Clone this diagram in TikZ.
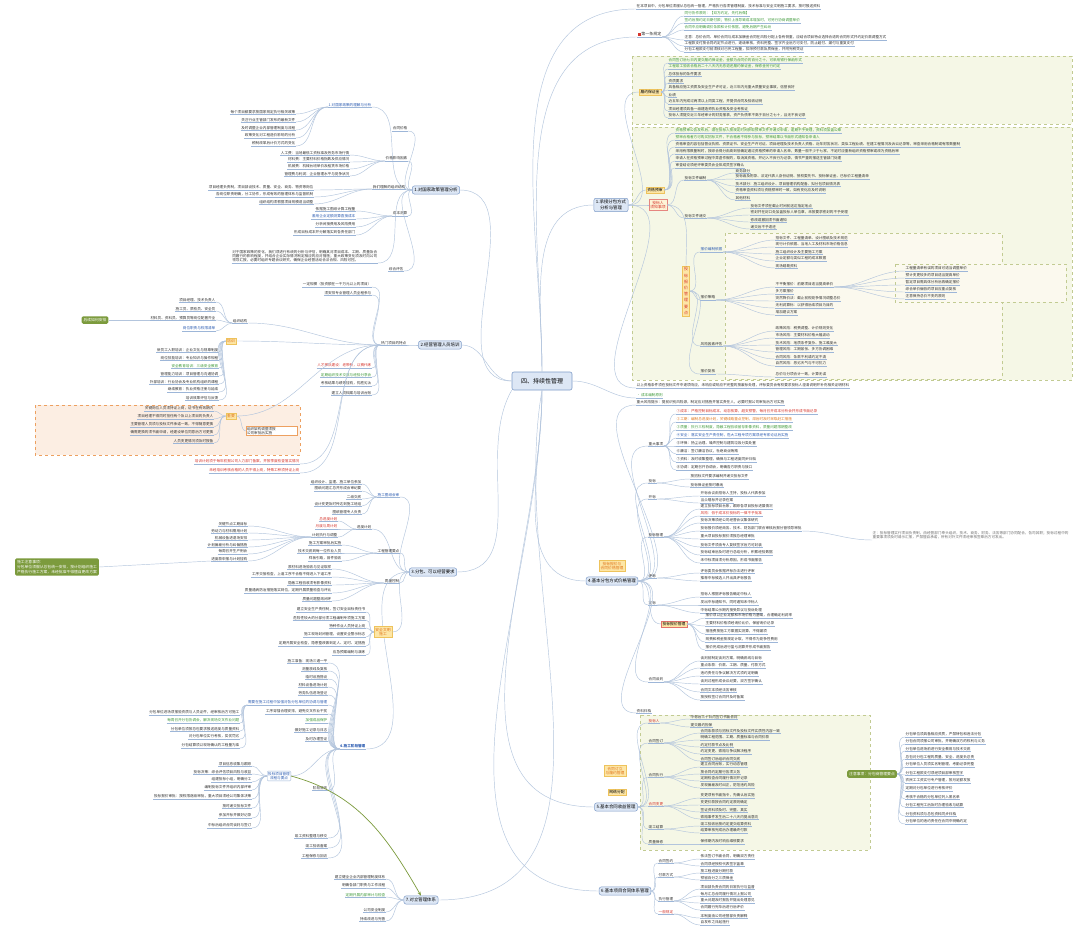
\documentclass[tikz,border=0pt]{standalone}
\usepackage{fontspec}
\setmainfont{Noto Sans CJK SC}
\XeTeXlinebreaklocale "zh"
\XeTeXlinebreakskip=0pt plus 1pt
\usepackage{xcolor}
\usepackage{tikz}
\usetikzlibrary{arrows.meta,calc}
\usetikzlibrary{positioning}

\definecolor{rootfill}{HTML}{DDE7F5}
\definecolor{rootedge}{HTML}{7E9CC8}
\definecolor{linkcol}{HTML}{B3C5DD}
\definecolor{ulcol}{HTML}{9DB6D8}
\definecolor{tipfill}{HTML}{FDE6A6}
\definecolor{tipedge}{HTML}{EEC35C}
\definecolor{panelfill}{HTML}{F5F7E6}
\definecolor{paneledge}{HTML}{C2CB92}
\definecolor{innerfill}{HTML}{FBF9EE}
\definecolor{orfill}{HTML}{FCEEE3}
\definecolor{oredge}{HTML}{EDA060}
\definecolor{olivebox}{HTML}{7C9B3D}
\definecolor{txtgreen}{HTML}{3F9A3A}
\definecolor{txtred}{HTML}{D6352C}
\definecolor{txtblue}{HTML}{2D5DB2}
\definecolor{txtorange}{HTML}{E0761C}
\definecolor{txtgrey}{HTML}{333333}

\tikzset{
  rootbox/.style={draw=rootedge, fill=rootfill, rounded corners=2pt, line width=0.6pt,
    minimum width=60pt, minimum height=18pt, font=\fontsize{6}{7}\selectfont},
  topic/.style={draw=rootedge, fill=rootfill, rounded corners=2pt, line width=0.5pt,
    inner sep=2pt, align=center, font=\fontsize{4.4}{5.4}\selectfont},
  tip/.style={draw=tipedge, fill=tipfill, line width=0.4pt, inner sep=1.4pt, align=center,
    font=\fontsize{3.8}{4.6}\selectfont},
  leaf/.style={inner sep=0.5pt, text=txtgrey, font=\fontsize{3.6}{4.4}\selectfont},
  link/.style={draw=linkcol, line width=0.45pt},
  uline/.style={draw=ulcol, line width=0.4pt},
  panel/.style={draw=paneledge, fill=panelfill, dashed, line width=0.45pt},
  orpanel/.style={draw=oredge, fill=orfill, dashed, line width=0.45pt},
  greenbox/.style={fill=olivebox, text=white, rounded corners=1.5pt, inner sep=2pt,
    align=left, font=\fontsize{3.8}{4.8}\selectfont},
}

% fan of leaves to the right / to the left of a parent point
\newcommand{\rfan}[3]{%
  \foreach \xx/\yy/\clr/\lbl [count=\i] in {#3}{%
    \node[leaf, text=\clr, anchor=south west] (#2\i) at (\xx,\yy) {\lbl};
    \draw[uline] (#2\i.south west) -- (#2\i.south east);
    \draw[link] (#1) to[out=0, in=180] (#2\i.south west);
  }}
\newcommand{\lfan}[3]{%
  \foreach \xx/\yy/\clr/\lbl [count=\i] in {#3}{%
    \node[leaf, text=\clr, anchor=south east] (#2\i) at (\xx,\yy) {\lbl};
    \draw[uline] (#2\i.south west) -- (#2\i.south east);
    \draw[link] (#1) to[out=180, in=0] (#2\i.south east);
  }}

\begin{document}
\begin{tikzpicture}[x=1pt, y=-1pt]
\useasboundingbox (0,0) rectangle (1080,927);
\fill[white] (0,0) rectangle (1080,927);

% panels
\draw[panel] (632,56) rectangle (1072,124);
\draw[panel] (632,127) rectangle (1072,380);
\draw[panel, fill=innerfill] (725,233) rectangle (1002,379);
\draw[panel, fill=innerfill] (895,264) rectangle (1066,302);
\draw[panel] (640,715) rectangle (870,850);
\draw[orpanel] (35,405) rectangle (300,455);

% root and main topics
\node[rootbox] (root) at (542,381) {四、持续性管理};
\node[topic] (rA) at (611,205) {1.承接分包方式\\分析与管理};
\node[topic] (rB) at (612,581) {4.基本分包方式价格管理};
\node[topic] (rC) at (616,807) {5.基本合同收益管理};
\node[topic] (rD) at (625,891) {6.基本项目合同体系管理};
\node[topic] (lA) at (436,190) {1.对国家政策管理分析};
\node[topic] (lB) at (440,345) {2.经营管理人员培训};
\node[topic] (lC) at (433,572) {3.分包、可以经营要求};
\node[topic] (lD) at (421,900) {7.对立管理体系};

\node[leaf, font=\fontsize{4}{5}\selectfont, anchor=south west] (rule) at (637,37)
  {\textcolor{txtred}{\rule{3pt}{3pt}}\,第一条规定};
\draw[uline] (rule.south west) -- (rule.south east);
\node[leaf, anchor=south west] (topline) at (636,9)
  {在本项目中，分包单位须服从总包统一管理，严格执行各项管理制度、技术标准与安全文明施工要求，按时报送资料};
\draw[uline] (topline.south west) -- (topline.south east);
\node[leaf, text=txtgreen, anchor=south west] (cont) at (636,398) {\textbullet\ 成本编制原则};
\draw[uline] (cont.south west) -- (cont.south east);

\draw[link] (root.north) to[out=90, in=180] (rA.west);
\draw[link] (root.north) to[out=90, in=180] (rule.south west);
\draw[link] (root.north) to[out=90, in=180] (topline.south west);
\draw[link] (root.east) to[out=0, in=180] (cont.south west);
\draw[link] (root.south) to[out=-90, in=180] (rB.west);
\draw[link] (root.south) to[out=-90, in=180] (rC.west);
\draw[link] (root.south) to[out=-90, in=180] (rD.west);
\draw[link] (root.west) to[out=180, in=0] (lA.east);
\draw[link] (root.west) to[out=180, in=0] (lB.east);
\draw[link] (root.south west) to[out=-120, in=0] (lC.east);
\draw[link] (root.south) to[out=-100, in=0] (lD.east);

% ---------- first rule
\rfan{rule.south east}{ru}{
 684/16/txtgreen/同行协作原则：【双方约定，先付后做】,
 684/23/txtgreen/签约后按约定日期付款；物价上涨导致成本增加时，可另行协商调整单价,
 684/30/txtgreen/合同中应明确调价条款和计价依据，避免后期产生纠纷,
 684/40/txtgrey/注意：总价合同、单价合同与成本加酬金合同在风险分配上各有侧重，应结合项目特点选择合适的合同形式并约定价款调整方式,
 684/46/txtgrey/工程款支付按合同约定节点进行，逐级审核，资料完整、签字齐全后方可支付，防止超付、漏付与重复支付,
 684/52/txtgrey/分包工程款支付前须核对已完工程量，扣除预付款及质保金，并附完税凭证}

% ---------- topic 1 (right)
\node[tip] (pA) at (650,92) {履约保证金};
\draw[link] (rA.east) to[out=0, in=180] (pA.west);
\rfan{pA.east}{pa}{
 668/63/txtgreen/合同签订后七日内提交履约保证金，金额为合同价的百分之十，可采用银行保函形式,
 668/69/txtgreen/工程竣工验收合格后二十八天内无息退还履约保证金，保修金另行约定,
 668/76/txtgrey/总体投标的条件要求,
 668/83/txtgrey/资质要求,
 668/90/txtgrey/具备相应施工资质及安全生产许可证，近三年内无重大质量安全事故，信誉良好,
 668/97/txtgrey/业绩,
 668/104/txtgrey/近五年内完成过两项以上同类工程，并提供合同及验收证明,
 668/111/txtgrey/项目经理须具备一级建造师执业资格及安全考核证,
 668/118/txtgrey/投标人须提交近三年经审计的财务报表，资产负债率不高于百分之七十，且无不良记录}

\node[tip] (qA) at (655,190) {资格预审};
\node[tip, fill=tipfill!45, draw=txtred!60, text=txtred] (qB) at (658,205) {投标人\\须知事项};
\draw[link] (rA.east) to[out=0, in=180] (qA.west);
\draw[link] (rA.east) to[out=0, in=180] (qB.west);
\rfan{qA.east}{qa}{
 675/133/txtgreen/资格预审公告发布后，潜在投标人按规定时间获取预审文件并递交申请，逾期不予受理，资料须加盖公章,
 675/140/txtgreen/预审合格者方可购买招标文件，不合格者不得参与投标，预审结果以书面形式通知各申请人,
 675/147/txtgrey/资格审查内容包括营业执照、资质证书、安全生产许可证、项目经理及技术负责人资格、近年财务状况、类似工程业绩、在建工程情况及诉讼记录等，审查采用合格制或有限数量制,
 675/154/txtgrey/采用有限数量制时，按综合得分由高到低确定通过资格预审的申请人名单，数量一般不少于七家，不足时应重新组织资格预审或改为资格后审,
 675/161/txtgrey/申请人在资格预审过程中弄虚作假的，取消其资格，并记入不良行为记录，情节严重的报送主管部门处理,
 675/168/txtgrey/审查结论须经评审委员会全体成员签字确认}
\rfan{qB.east}{qb}{
 684/180/txtgrey/投标文件编制,
 684/218/txtgrey/投标文件递交}
\rfan{qb1.south east}{qc}{
 735/173/txtgrey/商务部分,
 735/179/txtgrey/投标函及附录、法定代表人身份证明、授权委托书、投标保证金、已标价工程量清单,
 735/186/txtgrey/技术部分：施工组织设计、项目管理机构配备、拟分包项目情况表,
 735/193/txtgrey/资格审查资料须与资格预审时一致，如有变化应及时说明,
 735/200/txtgrey/其他材料}
\rfan{qb2.south east}{qd}{
 750/208/txtgrey/投标文件须在截止时间前送达指定地点,
 750/215/txtgrey/密封并在封口处加盖投标人单位章，未按要求密封的不予受理,
 750/222/txtgrey/修改或撤回须书面通知,
 750/229/txtgrey/递交后不予退还}

\node[tip, text=txtred, font=\fontsize{4}{6.2}\selectfont] (vt) at (686,291) {投\\标\\报\\价\\管\\理\\要\\点};
\draw[link] (qB.east) to[out=0, in=90] (vt.north);
\rfan{vt.east}{va}{
 700/252/txtblue/报价编制依据,
 700/300/txtgrey/报价策略,
 700/346/txtgrey/风险因素评估,
 700/374/txtgrey/报价复核}
\rfan{va1.south east}{vb}{
 775/240/txtgrey/招标文件、工程量清单、设计图纸及技术规范,
 775/247/txtgrey/现行计价依据、当地人工及材料市场价格信息,
 775/254/txtgrey/施工组织设计及主要施工方案,
 775/261/txtgrey/企业定额与类似工程的成本数据,
 775/268/txtgrey/现场踏勘资料}
\rfan{va2.south east}{vc}{
 775/287/txtgrey/不平衡报价：前期项目适当提高单价,
 775/294/txtgrey/多方案报价,
 775/301/txtgrey/突然降价法：截止前视竞争情况调整总价,
 775/308/txtgrey/无利润算标：以获得后续项目为目的,
 775/315/txtgrey/增加建议方案}
\rfan{vc1.south east}{vd}{
 905/271/txtgrey/工程量清单有误的项目可适当调整单价,
 905/278/txtgrey/预计变更较多的项目适当提高单价,
 905/285/txtgrey/暂定项目需具体分析后再确定报价,
 905/292/txtgrey/综合单价偏低的项目应重点复核,
 905/299/txtgrey/注意保持总价不变的原则}
\rfan{va3.south east}{ve}{
 775/331/txtgrey/政策风险：税费调整、计价规则变化,
 775/338/txtgrey/市场风险：主要材料价格大幅波动,
 775/345/txtgrey/技术风险：地质条件复杂、施工难度大,
 775/352/txtgrey/管理风险：工期紧张、多方协调困难,
 775/359/txtgrey/合同风险：条款不利或约定不清,
 775/366/txtgrey/自然风险：恶劣天气与不可抗力}
\rfan{va4.south east}{vf}{775/377/txtgrey/总价与分项合计一致，计算无误}
\rfan{rA.east}{rz}{
 636/388/txtgrey/以上资格条件须在投标文件中逐项响应，未响应或响应不完整的按废标处理，评标委员会有权要求投标人澄清说明并补充相关证明材料}

% ---------- topic 4 (right)
\node[tip, text=txtorange] (bNote) at (612,566) {投标报价与\\合同价格管理};
\rfan{rB.east}{rb}{
 636/405/txtgrey/重大风险提示：提前识别风险源，制定应对措施并落实责任人，必要时报公司审批后方可实施,
 648/446/txtgrey/重大事项,
 648/483/txtgrey/投标,
 648/499/txtgrey/开标,
 648/537/txtgrey/投标管理,
 648/578/txtgrey/评标,
 648/605/txtgrey/定标,
 648/682/txtgrey/合同谈判,
 636/713/txtgrey/资料归档}
\rfan{rb2.south east}{bA}{
 676/414/txtred/①成本：严格控制目标成本，动态核算，超支预警，每月召开成本分析会并形成书面记录,
 676/422/txtorange/②工期：编制总进度计划，关键线路重点控制，滞后时及时采取赶工措施,
 676/430/txtgreen/③质量：执行三检制度，隐蔽工程验收留存影像资料，质量问题限期整改,
 676/438/txtblue/④安全：落实安全生产责任制，危大工程专项方案须经专家论证后实施,
 676/446/txtgrey/⑤环保：扬尘治理、噪声控制与建筑垃圾分类处置,
 676/454/txtgrey/⑥廉洁：签订廉洁协议，杜绝商业贿赂,
 676/462/txtgrey/⑦资料：及时收集整理，确保与工程进度同步归档,
 676/470/txtgrey/⑧协调：定期召开协调会，明确各方职责与接口}
\rfan{rb3.south east}{bB}{
 690/479/txtgrey/按招标文件要求编制并递交投标文件,
 690/487/txtgrey/投标保证金按时缴纳}
\rfan{rb4.south east}{bC}{
 700/496/txtgrey/开标会议由招标人主持，投标人代表参加,
 700/503/txtgrey/当众唱标并记录在案}
\rfan{rb5.south east}{bD}{
 700/509/txtgrey/建立投标项目台账，跟踪各项目投标进展情况,
 700/516/txtred/风险：低于成本价投标的一律不予批准,
 700/523/txtgrey/投标决策须经公司经营会议集体研究,
 700/531/txtgrey/投标报价须经商务、技术、财务部门联合审核后报分管领导审批,
 700/539/txtgrey/重大项目投标报价须报总经理审批,
 700/547/txtgrey/投标文件须由专人复核签字后方可封装,
 700/555/txtgrey/投标结束后及时进行总结分析，积累经验数据,
 700/563/txtgrey/未中标项目须分析原因，形成书面报告}
\node[leaf, text=txtgrey!70, text width=196pt, align=left, anchor=south west] (bDnote) at (872,540)
  {注：投标管理实行项目负责制，由经营部门牵头组织，技术、商务、财务、法务等部门协同配合，各司其职；投标过程中的重要事项须及时请示汇报，严禁擅自承诺，所有对外文件须经审核签章后方可发出。};
\draw[link] (bD4.south east) to[out=0, in=180] (bDnote.south west);
\rfan{rb6.south east}{bE}{
 700/573/txtgrey/评标委员会依据评标办法进行评审,
 700/581/txtgrey/推荐中标候选人并出具评标报告}
\rfan{rb7.south east}{bF}{
 700/597/txtgrey/招标人根据评标报告确定中标人,
 700/605/txtgrey/发出中标通知书，同时通知未中标人,
 700/613/txtgrey/中标结果公示期内接受异议与投诉处理}
\node[tip, draw=txtred!70] (bT) at (674,624) {投标报价管理};
\draw[link] (rB.east) to[out=0, in=180] (bT.west);
\rfan{bT.east}{bG}{
 705/618/txtgrey/报价须以企业定额和市场价格为基础，合理确定利润率,
 705/626/txtgrey/主要材料价格须经询价比价，保留询价记录,
 705/634/txtgrey/措施费按施工方案据实测算，不得漏项,
 705/642/txtgrey/规费和税金按规定计取，不得作为竞争性费用,
 705/650/txtgrey/报价完成后进行盈亏测算并形成书面报告}
\rfan{rb8.south east}{bH}{
 700/661/txtgrey/谈判前制定谈判方案，明确底线与目标,
 700/668/txtgrey/重点条款：价款、工期、质量、付款方式,
 700/676/txtgrey/违约责任与争议解决方式须约定明确,
 700/684/txtgrey/谈判过程形成会议纪要，双方签字确认,
 700/692/txtgrey/合同文本须经法务审核,
 700/700/txtgrey/按授权签订合同并及时备案}

% ---------- topic 5 (right)
\node[tip, text=txtorange] (cNote) at (615,771) {合同订立\\与履约管理};
\node[tip] (cNet) at (617,792) {网络分配};
\rfan{rC.east}{rc}{
 648/723/txtred/投标人,
 648/743/txtgrey/合同签订,
 648/777/txtgrey/合同执行,
 648/806/txtred/合同变更,
 648/829/txtgrey/竣工结算,
 648/844/txtgrey/质量保修}
\rfan{rc1.south east}{cA}{
 690/719/txtgrey/中标后三十日内签订书面合同,
 690/727/txtgrey/提交履约担保}
\rfan{rc2.south east}{cB}{
 700/733/txtgrey/合同条款须与招标文件及投标文件实质性内容一致,
 700/740/txtgrey/明确工程范围、工期、质量标准与合同价款,
 700/747/txtgrey/约定付款节点及比例,
 700/754/txtgrey/约定变更、索赔与争议解决程序,
 700/761/txtgrey/合同签订后组织合同交底}
\rfan{rc3.south east}{cC}{
 700/767/txtgrey/建立合同台账，实行动态管理,
 700/774/txtgrey/按合同约定履行各项义务,
 700/781/txtgrey/定期检查合同履行情况并记录,
 700/788/txtgrey/发现偏差及时纠正，防范违约风险}
\rfan{rc4.south east}{cD}{
 700/798/txtgrey/变更须有书面指令，先确认后实施,
 700/805/txtgrey/变更价款按合同约定原则确定,
 700/812/txtgrey/签证资料须及时、完整、真实,
 700/819/txtgrey/索赔事件发生后二十八天内提出意向}
\rfan{rc5.south east}{cE}{
 700/826/txtgrey/竣工验收后按约定提交结算资料,
 700/833/txtgrey/结算审核完成后办理最终付款}
\rfan{rc6.south east}{cF}{700/844/txtgrey/保修期内及时响应维修要求}

\node[greenbox] (gN) at (872,774) {注意事项：分包商管理要点};
\rfan{gN.east}{gn}{
 905/737/txtgrey/分包单位须具备相应资质，严禁转包和违法分包,
 905/744/txtgrey/分包合同须报公司审批，并明确双方的权利与义务,
 905/751/txtgrey/分包单位进场前进行安全教育与技术交底,
 905/759/txtgrey/总包对分包工程的质量、安全、进度负总责,
 905/767/txtgrey/分包单位人员须实名制管理，考勤记录完整,
 905/775/txtgrey/分包工程款支付须经项目部审核签字,
 905/783/txtgrey/农民工工资实行专户管理，按月足额发放,
 905/791/txtgrey/定期对分包单位进行考核评价,
 905/799/txtgrey/考核不合格的分包单位列入黑名单,
 905/807/txtgrey/分包工程完工后及时办理验收与结算,
 905/816/txtgrey/分包资料须与总包资料同步归档,
 905/824/txtgrey/分包单位的违约责任在合同中明确约定}

% ---------- topic 6 (right)
\rfan{rD.east}{rd}{
 658/863/txtgrey/合同签约,
 658/877/txtgrey/付款方式,
 658/901/txtgrey/执行管理,
 658/914/txtred/一般规定}
\rfan{rd1.south east}{dA}{
 700/859/txtgrey/依法签订书面合同，明确双方责任,
 700/866/txtgrey/合同须经授权代表签字盖章}
\rfan{rd2.south east}{dB}{
 700/873/txtgrey/按工程进度分期付款,
 700/880/txtgrey/预留百分之三质保金}
\rfan{rd3.south east}{dC}{
 700/889/txtgrey/项目部负责合同的日常执行与监督,
 700/896/txtgrey/每月汇总合同履行情况上报公司,
 700/903/txtgrey/重大问题及时报告并提出处理意见,
 700/910/txtgrey/合同履行完毕后进行后评价}
\rfan{rd4.south east}{dD}{
 700/918/txtgrey/本制度由公司经营部负责解释,
 700/925/txtgrey/自发布之日起施行}

% ---------- topic 1 (left)
\lfan{lA.west}{la}{
 372/107/txtblue/1.对国家政策的理解与分析,
 408/131/txtgrey/合同价格,
 408/161/txtgrey/价格影响因素,
 406/189/txtgrey/我们理解的组织结构,
 408/216/txtgrey/成本测算,
 404/271/txtgrey/综合评估}
\lfan{la1.south west}{laA}{
 296/114/txtgrey/每个项目都要求按国家规定执行相关政策,
 296/122/txtgrey/关注行业主管部门发布的最新文件,
 296/130/txtgrey/及时调整企业内部管理制度与流程,
 296/138/txtgrey/政策变化对工程造价影响的分析,
 296/146/txtgrey/税制改革后计价方式的变化}
\lfan{la3.south west}{laC}{
 350/155/txtgrey/人工费：当地最低工资标准及劳务市场行情,
 350/162/txtgrey/材料费：主要材料价格指数及供应情况,
 350/169/txtgrey/机械费：机械台班单价及租赁市场价格,
 350/176/txtgrey/管理费与利润：企业管理水平与竞争状况}
\lfan{la4.south west}{laD}{
 314/190/txtgrey/项目经理负责制，项目部设技术、质量、安全、商务、物资等岗位,
 314/197/txtgrey/各岗位职责明确，分工协作，形成有效的管理体系与监督机制,
 314/204/txtgrey/组织结构须根据项目规模适当调整}
\lfan{la5.south west}{laE}{
 356/211/txtgrey/依据施工图纸计算工程量,
 356/219/txtblue/套用企业定额测算直接成本,
 356/227/txtgrey/分析间接费用及风险费用,
 356/235/txtgrey/形成目标成本并分解落实到各责任部门}
\node[leaf, anchor=south east, text width=145pt, align=left] (laP) at (378,263)
  {对于国家政策的变化，我们须进行系统的分析与评估，明确其对项目成本、工期、质量及合同履行的影响程度，并结合企业实际情况制定相应的应对措施；重大政策变化须及时向公司领导汇报，必要时组织专题会议研究，确保企业经营活动合法合规、风险可控。};
\draw[uline] (laP.south west) -- (laP.south east);
\draw[link] (lA.west) to[out=180, in=0] (laP.south east);

% ---------- topic 2 (left)
\lfan{lB.west}{lbA}{407/345/txtgrey/热门项目的特点}
\lfan{lbA1.south west}{lbB}{
 372/287/txtgrey/一定规模（投资额在一千万元以上的项目）,
 372/295/txtgrey/须安排专业管理人员全程参与,
 248/323/txtgrey/组织结构,
 372/368/txtred/人才梯队建设：老带新，以赛代练,
 372/377/txtgreen/定期组织技术交底与经验分享会,
 372/386/txtgrey/考核结果与绩效挂钩，优胜劣汰,
 372/395/txtgrey/建立人员档案与培训台账,
 300/464/txtred/培训计划须于每年初报公司人力部门备案，并按季度检查落实情况,
 300/473/txtred/未经培训考核合格的人员不得上岗，特殊工种须持证上岗}
\lfan{lbB3.south west}{lbC}{
 216/302/txtgrey/项目经理、技术负责人,
 216/311/txtgrey/施工员、质检员、安全员,
 216/320/txtgrey/材料员、资料员、预算员等岗位配置齐全,
 216/331/txtblue/岗位职责与权限清单}
\node[greenbox] (gL) at (95,320) {后续如何安排};
\draw[link] (lbC3.south west) -- (gL.east);

\node[tip, text=txtorange] (lbT) at (231,341) {培训};
\draw[link] (lbA1.south west) to[out=180, in=0] (lbT.east);
\lfan{lbT.west}{lbD}{
 219/352/txtgrey/新员工入职培训：企业文化与规章制度,
 219/360/txtgrey/岗位技能培训：专业知识与操作规程,
 219/368/txtgreen/安全教育培训：三级安全教育,
 219/376/txtgrey/管理能力培训：项目管理与沟通协调,
 219/384/txtgrey/外部培训：行业协会及专业机构组织的课程,
 219/392/txtgrey/继续教育：执业资格注册与延续,
 219/400/txtgrey/培训效果评估与反馈}

\node[tip, text=txtorange] (lbZ) at (231,416) {重要};
\draw[link] (lbA1.south west) to[out=180, in=0] (lbZ.east);
\lfan{lbZ.west}{lbE}{
 214/411/txtgrey/关键岗位人员须持证上岗，证书在有效期内,
 214/419/txtgrey/项目经理不得同时担任两个及以上项目的负责人,
 214/427/txtgrey/主要管理人员须与投标文件承诺一致，不得随意更换,
 214/435/txtgrey/确需更换的须书面申请，经建设单位同意后方可更换,
 214/443/txtgrey/人员变更情况须及时报备}
\node[leaf, draw=oredge, fill=white, text width=50pt, align=left] (lbBox) at (272,431)
  {组织架构调整须报\\公司审批后实施};
\draw[link] (lbZ.east) to[out=0, in=180] (lbBox.west);

% ---------- topic 3 (left)
\lfan{lC.west}{lcA}{
 400/497/txtblue/施工图纸会审,
 372/529/txtgrey/进度计划,
 400/553/txtgrey/工程管理要点,
 400/583/txtgrey/质量控制,
 366/749/txtblue/\textbf{4.施工阶段管理}}
\lfan{lcA1.south west}{lcB}{
 362/484/txtgrey/组织设计、监理、施工单位参加,
 362/491/txtgrey/图纸问题汇总并形成会审纪要,
 362/499/txtgrey/二级交底,
 362/506/txtgrey/设计变更及时传达到施工班组,
 362/514/txtgrey/图纸管理专人负责}
\lfan{lcA2.south west}{lcC}{
 338/521/txtred/总进度计划,
 338/529/txtred/月度与周计划,
 338/537/txtgrey/计划执行与调整}
\lfan{lcC3.south west}{lcD}{
 248/526/txtgrey/关键节点工期目标,
 248/533/txtgrey/劳动力与材料需用计划,
 248/540/txtgrey/机械设备进退场安排,
 248/547/txtgrey/计划偏差分析与纠偏措施,
 248/554/txtgrey/每周召开生产例会,
 248/561/txtgrey/进度款申报与计划挂钩}
\node[greenbox] (gL2) at (57,567) {施工注意事项：\\分包单位须服从总包统一安排，按计划组织施工\\严格执行施工方案，未经批准不得擅自更改方案};
\draw[link] (lcD6.south west) -- (gL2.east);
\lfan{lcA3.south west}{lcE}{
 342/545/txtgrey/施工方案审批后实施,
 342/553/txtgrey/技术交底到每一位作业人员,
 342/561/txtgrey/样板引路，首件验收}
\lfan{lcA4.south west}{lcF}{
 332/569/txtgrey/原材料进场验收与见证取样,
 332/577/txtgrey/工序交接检查，上道工序不合格不得进入下道工序,
 332/585/txtgrey/隐蔽工程验收须有影像资料,
 332/593/txtgrey/质量通病防治措施落实到位，定期开展质量检查与评比,
 332/601/txtgrey/质量问题整改闭环}
\node[tip, text=txtorange] (lcT) at (383,632) {安全文明\\施工};
\draw[link] (lC.west) to[out=180, in=0] (lcT.east);
\lfan{lcT.west}{lcG}{
 366/612/txtgrey/建立安全生产责任制，签订安全目标责任书,
 366/620/txtgrey/危险性较大的分部分项工程编制专项施工方案,
 366/628/txtgrey/特种作业人员持证上岗,
 366/637/txtgrey/施工现场封闭管理，设置安全警示标志,
 366/646/txtgrey/定期开展安全检查，隐患整改做到定人、定时、定措施,
 366/655/txtgrey/应急预案编制与演练}
\lfan{lcA5.south west}{lcH}{
 328/663/txtgrey/施工准备：现场三通一平,
 328/671/txtgrey/测量放线及复核,
 328/679/txtgrey/临时设施搭设,
 328/687/txtgrey/材料设备进场计划,
 328/695/txtgrey/劳务队伍进场登记,
 328/705/txtblue/需要在施工过程中加强对各分包单位的协调与管理,
 328/714/txtgrey/工序穿插合理安排，避免交叉作业干扰,
 328/723/txtgreen/加强成品保护,
 328/732/txtgrey/做好施工记录与日志,
 328/741/txtgrey/及时办理签证,
 328/790/txtgrey/阶段验收,
 328/838/txtgrey/竣工资料整理与移交,
 328/848/txtgrey/竣工验收备案,
 328/858/txtgrey/工程保修与回访}
\lfan{lcH6.south west}{lcJ}{
 240/715/txtgrey/分包单位进场须报验资质与人员证件，经审核后方可施工,
 240/723/txtgreen/每周召开分包协调会，解决现场交叉作业问题,
 240/731/txtgrey/分包单位须按总包要求报送进度与质量资料,
 240/739/txtgrey/对分包单位实行考核，奖优罚劣,
 240/748/txtgrey/分包结算须以现场确认的工程量为准}
\node[leaf, text=txtblue, draw=ulcol, rounded corners=1pt, inner sep=1pt, align=center] (lcS) at (279,776)
  {投标项目管理\\流程与要点};
\draw[link] (lcA5.south west) to[out=180, in=0] (lcS.east);
\lfan{lcS.west}{lcI}{
 252/766/txtgrey/项目信息收集与跟踪,
 252/774/txtgrey/投标决策：综合评估项目风险与收益,
 252/782/txtgrey/组建投标小组，明确分工,
 252/790/txtgrey/编制投标文件并组织内部评审,
 252/799/txtgrey/投标报价审批：按权限逐级审批，重大项目须经公司集体决策,
 252/808/txtgrey/按时递交投标文件,
 252/818/txtgrey/参加开标并做好记录,
 252/828/txtgrey/中标后组织合同谈判与签订}
\draw[olivebox, line width=0.7pt, -{Stealth[length=4pt]}] (lcS.east) to[out=-15, in=120] (lD.north);

% ---------- topic 7 (left)
\lfan{lD.west}{ldA}{
 386/879/txtgrey/建立健全企业内部管理制度体系,
 386/888/txtgrey/明确各部门职责与工作流程,
 386/897/txtgreen/定期开展内部审计与检查,
 386/912/txtgrey/公司安全制度,
 386/921/txtgrey/持续改进与完善}

\end{tikzpicture}
\end{document}
